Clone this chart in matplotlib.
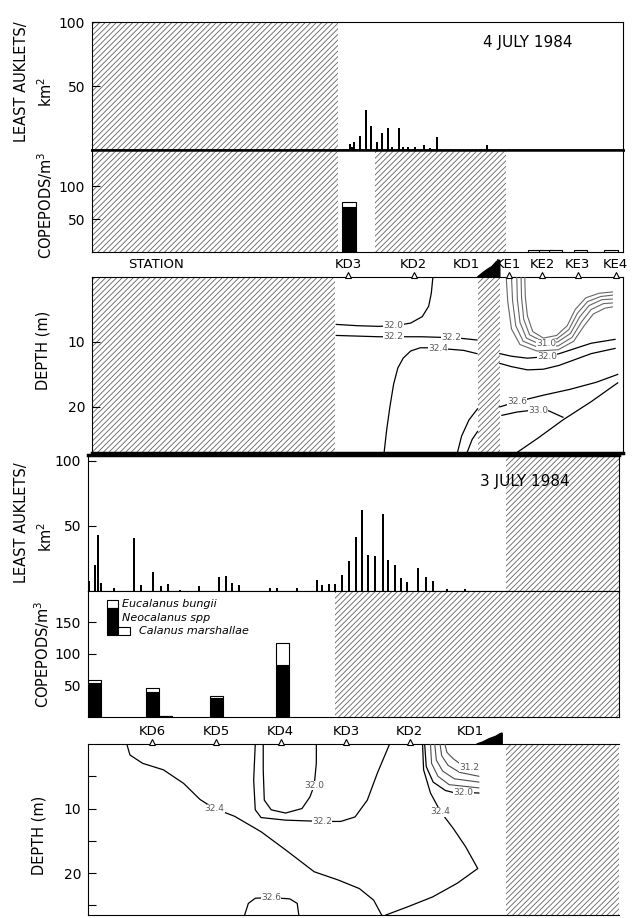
import matplotlib
matplotlib.use('Agg')
import matplotlib.pyplot as plt
from matplotlib.patches import Rectangle

plt.rcParams['font.family'] = ['DejaVu Sans']
plt.rcParams['hatch.linewidth'] = 0.6

W, H = 642, 918

# ---------------- data (along-track distance, 0-100 units) ----------------
stations_jul4 = ['KD3', 'KD2', 'KD1', 'KE1', 'KE2', 'KE3', 'KE4']
stations_jul4_x = [48.2, 60.6, 70.5, 78.5, 84.8, 91.5, 98.6]
stations_jul3 = ['KD6', 'KD5', 'KD4', 'KD3', 'KD2', 'KD1']
stations_jul3_x = [12.1, 24.1, 36.3, 48.6, 60.6, 72.0]

# least auklets / km2
auk_jul4_x = [48.6, 49.0, 49.3, 50.5, 51.6, 52.5, 53.7, 54.6, 55.7, 56.5, 57.8,
              58.6, 59.5, 60.8, 62.5, 63.7, 65.0, 74.4]
auk_jul4 = [4.7, 2.6, 6, 11, 31, 19, 6, 13, 17, 2.6, 17, 2, 2, 2, 4, 1.5, 10, 4]

auk_jul3_x = [0.2, 1.3, 1.9, 2.4, 4.9, 8.7, 10.0, 12.2, 13.7, 15.1, 17.3, 20.9,
              24.7, 26.0, 27.1, 28.4, 34.3, 35.6, 39.4, 43.1, 44.1, 45.4, 46.5,
              47.8, 49.2, 50.5, 51.6, 52.7, 54.0, 55.5, 56.5, 57.8, 58.9, 60.1,
              62.1, 63.6, 65.0, 67.6, 71.0]
auk_jul3 = [8, 20, 43, 6.4, 2.6, 41, 4.6, 14.6, 3.6, 5, 1, 3.8, 10.8, 11.5, 6,
            4.6, 2.6, 2, 2, 8.5, 4.6, 5, 5, 12, 23, 41.5, 62, 28, 26.7, 59, 24,
            20, 10, 7, 18, 10.8, 7.7, 1.8, 1.3]

# copepods / m3 (Neocalanus spp, Eucalanus bungii)
cope_jul4_x = [48.4, 83.5, 85.5, 87.3, 92.0, 97.8]
cope_jul4_neo = [69, 0, 0, 0, 0, 0]
cope_jul4_euc = [7, 3, 3, 3, 3, 3]

cope_jul3_x = [1.2, 12.1, 14.6, 24.2, 36.6]
cope_jul3_neo = [54, 40, 1, 30, 82]
cope_jul3_euc = [5, 6, 0, 3, 35]

# unsampled (hatched) stretches
hatch_auk_jul4 = [(0, 46.3)]
hatch_cope_jul4 = [(0, 46.3), (53.3, 78.0)]
hatch_sal_jul4 = [(0, 45.8), (72.7, 76.8)]
hatch_auk_jul3 = [(78.7, 100)]
hatch_cope_jul3 = [(46.5, 100)]
hatch_sal_jul3 = [(78.7, 100)]

# shoal (land) profile at KD1, height above surface in m
shoal_jul4_x = [72.6, 73.5, 74.5, 75.3, 76.2, 76.8, 76.8]
shoal_jul4_h = [0, 0.6, 1.2, 1.6, 2.4, 2.6, 0]
shoal_jul3_x = [73.2, 74.3, 75.5, 76.8, 77.6, 78.0, 78.0]
shoal_jul3_h = [0, 0.3, 0.8, 1.2, 1.6, 1.7, 0]

# isohalines 4 July (x, depth)
s4_320_x = [46.0, 50, 54, 57, 60, 62.2, 63.4, 63.9, 64.2]
s4_320_d = [7.3, 7.5, 7.6, 7.5, 7.1, 6.1, 4.5, 2.5, 0]
s4_322_x = [46.0, 50, 54, 58, 62, 66, 69, 72.5]
s4_322_d = [9.0, 9.1, 9.2, 9.2, 9.2, 9.3, 9.4, 9.7]
s4_324_x = [55.0, 55.5, 56.1, 56.8, 57.6, 58.6, 60.0, 61.8, 64, 67, 70, 72.5]
s4_324_d = [27.1, 23.5, 20.0, 16.5, 14.0, 12.5, 11.4, 10.9, 10.9, 11.1, 11.3, 11.8]
s4_326_x = [68.8, 69.6, 71.0, 72.6]
s4_326_d = [27.1, 24.5, 22.0, 20.3]
s4_328_x = [70.6, 71.6, 72.6]
s4_328_d = [27.1, 25.0, 23.8]
s4_u1_x = [81.5, 81.6, 82.0, 83.0, 85.0, 87.5, 89.5, 91.0, 93.0, 95.5, 98.0]
s4_u1_d = [0, 3, 6, 8.4, 9.4, 9.0, 7.5, 5.0, 3.2, 2.5, 2.3]
s4_u2_x = [80.8, 80.9, 81.3, 82.4, 84.8, 87.6, 89.8, 91.4, 93.3, 95.8, 98.0]
s4_u2_d = [0, 3.2, 6.5, 8.9, 9.9, 9.5, 8.1, 5.6, 3.8, 3.0, 2.8]
s4_u3_x = [80.0, 80.1, 80.6, 81.8, 84.5, 87.7, 90.1, 91.8, 93.6, 96.0, 98.0]
s4_u3_d = [0, 3.4, 7.0, 9.4, 10.4, 10.0, 8.7, 6.2, 4.4, 3.5, 3.4]
s4_u4_x = [79.0, 79.2, 79.8, 81.2, 84.2, 87.8, 90.4, 92.2, 94.0, 96.3, 98.0]
s4_u4_d = [0, 3.6, 7.5, 9.9, 10.9, 10.6, 9.3, 6.9, 5.0, 4.1, 4.0]
s4_u5_x = [78.0, 78.3, 79.0, 80.6, 83.8, 87.8, 90.7, 92.6, 94.4, 96.6, 98.0]
s4_u5_d = [0, 3.8, 8.0, 10.4, 11.4, 11.2, 9.9, 7.6, 5.7, 4.8, 4.6]
s4_r320_x = [76.8, 79, 82, 85, 88, 91, 94, 98.5]
s4_r320_d = [11.8, 12.2, 12.5, 12.3, 11.8, 11.0, 10.2, 9.6]
s4_r322_x = [76.8, 79, 82, 85, 88, 91, 94, 98.5]
s4_r322_d = [13.3, 13.8, 14.3, 14.2, 13.6, 12.7, 11.8, 11.0]
s4_r326_x = [76.8, 80, 85, 90, 95, 99]
s4_r326_d = [20.0, 19.2, 18.2, 17.3, 16.2, 15.0]
s4_r330_x = [77.2, 80, 83, 86, 88.7]
s4_r330_d = [21.3, 20.8, 20.5, 20.6, 21.6]
s4_rdg_x = [79.9, 84, 88.7, 94, 99]
s4_rdg_d = [27.1, 24.8, 22.0, 19.2, 16.3]

# isohalines 3 July (x, depth)
s3_324a_x = [7.3, 7.9, 10.3, 14.2, 18.0, 21.1, 23.8, 27.6, 32.6, 37.2, 42.6, 47.2, 51.1, 53.8, 55.3]
s3_324a_d = [0, 1.7, 3.0, 4.0, 6.1, 8.6, 10.0, 11.2, 13.6, 16.4, 19.8, 21.1, 22.4, 24.2, 26.5]
s3_324b_x = [56.1, 60.3, 64.9, 69.5, 73.4, 71.1, 68.8, 66.4, 64.5, 63.2, 63.0]
s3_324b_d = [26.5, 25.2, 23.7, 21.6, 19.3, 15.9, 13.1, 10.5, 7.6, 4.0, 0]
s3_320_x = [33.0, 33.0, 33.2, 34.5, 37.2, 40.3, 41.8, 42.6, 43.0, 43.0]
s3_320_d = [0, 4.0, 8.7, 10.2, 10.7, 10.0, 8.2, 6.4, 3.0, 0]
s3_322_x = [31.5, 31.2, 31.5, 32.6, 37.2, 44.1, 47.6, 50.3, 52.6, 54.5, 56.8]
s3_322_d = [0, 5.6, 10.2, 11.4, 11.8, 12.0, 12.0, 11.3, 8.7, 4.5, 0]
s3_326_x = [29.5, 30.2, 31.5, 34.5, 38.0, 39.4, 39.7]
s3_326_d = [26.5, 24.7, 23.9, 23.8, 24.0, 24.7, 26.5]
s3_f1_x = [67.2, 67.6, 68.8, 70.3, 72.0, 73.4]
s3_f1_d = [0, 1.3, 2.3, 3.2, 3.7, 4.0]
s3_f2_x = [66.3, 66.6, 67.8, 70.0, 73.6]
s3_f2_d = [0, 1.8, 3.3, 4.4, 5.0]
s3_f3_x = [65.3, 65.6, 66.8, 69.0, 73.6]
s3_f3_d = [0, 2.5, 4.2, 5.4, 5.9]
s3_f4_x = [64.5, 64.7, 65.9, 68.0, 73.6]
s3_f4_d = [0, 3.0, 5.0, 6.3, 6.8]
s3_f5_x = [63.4, 63.7, 65.0, 67.3, 69.2, 71.0, 73.6]
s3_f5_d = [0, 3.5, 5.9, 7.2, 7.6, 7.5, 7.6]

# ---------------- figure ----------------
fig = plt.figure(figsize=(W / 100, H / 100), dpi=100)


def add_ax(x0, y0, x1, y1):
    return fig.add_axes([x0 / W, 1 - y1 / H, (x1 - x0) / W, (y1 - y0) / H])


def style(ax, yticks, minor=None):
    ax.set_xlim(0, 100)
    ax.set_xticks([])
    ax.set_yticks(yticks)
    if minor is not None:
        ax.set_yticks(minor, minor=True)
    ax.tick_params(axis='y', which='both', direction='in', length=6, width=0.8,
                   labelsize=10, pad=5)
    for s in ax.spines.values():
        s.set_linewidth(0.8)


def hatch(ax, spans):
    for a, b in spans:
        ax.axvspan(a, b, facecolor='white', edgecolor='0.38', hatch='//////',
                   lw=0, zorder=0)


def line(ax, xs, ds, color='black', lw=0.9):
    ax.plot(xs, ds, color=color, lw=lw, zorder=3)


def lab(ax, x, y, s):
    ax.text(x, y, s, fontsize=6.5, color='0.35', ha='center', va='center',
            zorder=4, bbox=dict(fc='white', ec='none', pad=0.2))


# Panel 1 : auklets 4 July
ax1 = add_ax(92, 22, 623, 150)
style(ax1, [50, 100])
ax1.set_ylim(0, 100)
hatch(ax1, hatch_auk_jul4)
ax1.bar(auk_jul4_x, auk_jul4, width=0.4, color='black', zorder=2)
ax1.spines['bottom'].set_linewidth(1.8)
ax1.text(82, 84, '4 JULY 1984', fontsize=11, ha='center', va='center')

# Panel 2 : copepods 4 July
ax2 = add_ax(92, 150, 623, 252)
style(ax2, [50, 100])
ax2.set_ylim(0, 155)
hatch(ax2, hatch_cope_jul4)
ax2.bar(cope_jul4_x, cope_jul4_neo, width=2.6, color='black', edgecolor='black',
        lw=0.8, zorder=2)
ax2.bar(cope_jul4_x, cope_jul4_euc, bottom=cope_jul4_neo, width=2.6, color='white',
        edgecolor='black', lw=0.8, zorder=2)
ax2.spines['top'].set_linewidth(1.8)

# Panel 3 : salinity section 4 July
ax3 = add_ax(92, 277, 623, 453)
style(ax3, [10, 20])
ax3.set_ylim(27.1, 0)
hatch(ax3, hatch_sal_jul4)
ax3.spines['bottom'].set_linewidth(2.5)
for xs, ds in [(s4_320_x, s4_320_d), (s4_322_x, s4_322_d), (s4_324_x, s4_324_d),
               (s4_326_x, s4_326_d), (s4_328_x, s4_328_d), (s4_r320_x, s4_r320_d),
               (s4_r322_x, s4_r322_d), (s4_r326_x, s4_r326_d), (s4_r330_x, s4_r330_d),
               (s4_rdg_x, s4_rdg_d)]:
    line(ax3, xs, ds)
for xs, ds in [(s4_u1_x, s4_u1_d), (s4_u2_x, s4_u2_d), (s4_u3_x, s4_u3_d),
               (s4_u4_x, s4_u4_d), (s4_u5_x, s4_u5_d)]:
    line(ax3, xs, ds, color='0.4', lw=0.8)
lab(ax3, 56.8, 7.5, '32.0')
lab(ax3, 56.8, 9.2, '32.2')
lab(ax3, 67.6, 9.35, '32.2')
lab(ax3, 65.2, 11.0, '32.4')
lab(ax3, 85.5, 10.3, '31.0')
lab(ax3, 85.7, 12.3, '32.0')
lab(ax3, 80.0, 19.1, '32.6')
lab(ax3, 84.0, 20.5, '33.0')
ax3.fill(shoal_jul4_x, [-h for h in shoal_jul4_h], color='black',
         clip_on=False, zorder=5)
tri4 = [(x, s) for x, s in zip(stations_jul4_x, stations_jul4) if s != 'KD1']
ax3.plot([t[0] for t in tri4], [-0.3] * len(tri4), ls='none', marker='^', ms=5,
         mfc='white', mec='black', mew=0.8, clip_on=False, zorder=6)
for x, s in zip(stations_jul4_x, stations_jul4):
    ax3.text(x, -1.9, s, fontsize=9.5, ha='center', va='center', clip_on=False)
ax3.text(12, -1.9, 'STATION', fontsize=9.5, ha='center', va='center', clip_on=False)

# Panel 4 : auklets 3 July
ax4 = add_ax(88, 455, 619, 591)
style(ax4, [50, 100])
ax4.set_ylim(0, 104.6)
hatch(ax4, hatch_auk_jul3)
ax4.bar(auk_jul3_x, auk_jul3, width=0.4, color='black', zorder=2)
ax4.spines['top'].set_linewidth(2.5)
ax4.text(82.3, 84.6, '3 JULY 1984', fontsize=11, ha='center', va='center', zorder=5)

# Panel 5 : copepods 3 July
ax5 = add_ax(88, 591, 619, 717)
style(ax5, [50, 100, 150])
ax5.set_ylim(0, 199)
hatch(ax5, hatch_cope_jul3)
ax5.bar(cope_jul3_x, cope_jul3_neo, width=2.4, color='black', edgecolor='black',
        lw=0.8, zorder=2)
ax5.bar(cope_jul3_x, cope_jul3_euc, bottom=cope_jul3_neo, width=2.4, color='white',
        edgecolor='black', lw=0.8, zorder=2)
# legend glyph
ax5.add_patch(Rectangle((0.036, 0.865), 0.021, 0.064, transform=ax5.transAxes,
                        fc='white', ec='black', lw=0.8))
ax5.add_patch(Rectangle((0.036, 0.651), 0.021, 0.214, transform=ax5.transAxes,
                        fc='black', ec='black', lw=0.8))
ax5.add_patch(Rectangle((0.057, 0.651), 0.022, 0.063, transform=ax5.transAxes,
                        fc='white', ec='black', lw=0.8))
ax5.text(0.064, 0.897, 'Eucalanus bungii', transform=ax5.transAxes, fontsize=8,
         style='italic', va='center')
ax5.text(0.064, 0.786, 'Neocalanus spp', transform=ax5.transAxes, fontsize=8,
         style='italic', va='center')
ax5.text(0.096, 0.683, 'Calanus marshallae', transform=ax5.transAxes, fontsize=8,
         style='italic', va='center')

# Panel 6 : salinity section 3 July
ax6 = add_ax(88, 744, 619, 915)
style(ax6, [10, 20], minor=[5, 15, 25])
ax6.set_ylim(26.5, 0)
hatch(ax6, hatch_sal_jul3)
ax6.spines['right'].set_visible(False)
for xs, ds in [(s3_324a_x, s3_324a_d), (s3_324b_x, s3_324b_d), (s3_320_x, s3_320_d),
               (s3_322_x, s3_322_d), (s3_326_x, s3_326_d), (s3_f5_x, s3_f5_d)]:
    line(ax6, xs, ds)
for xs, ds in [(s3_f1_x, s3_f1_d), (s3_f2_x, s3_f2_d), (s3_f3_x, s3_f3_d),
               (s3_f4_x, s3_f4_d)]:
    line(ax6, xs, ds, color='0.3', lw=0.8)
lab(ax6, 23.8, 10.0, '32.4')
lab(ax6, 66.4, 10.5, '32.4')
lab(ax6, 42.6, 6.4, '32.0')
lab(ax6, 44.1, 12.0, '32.2')
lab(ax6, 34.5, 23.8, '32.6')
lab(ax6, 71.8, 3.6, '31.2')
lab(ax6, 70.7, 7.5, '32.0')
ax6.fill(shoal_jul3_x, [-h for h in shoal_jul3_h], color='black', clip_on=False,
         zorder=5)
tri3 = [(x, s) for x, s in zip(stations_jul3_x, stations_jul3) if s != 'KD1']
ax6.plot([t[0] for t in tri3], [-0.3] * len(tri3), ls='none', marker='^', ms=5,
         mfc='white', mec='black', mew=0.8, clip_on=False, zorder=6)
for x, s in zip(stations_jul3_x, stations_jul3):
    ax6.text(x, -1.9, s, fontsize=9.5, ha='center', va='center', clip_on=False)


# axis titles
def ylab(x, y, s, size=10.5):
    fig.text(x / W, 1 - y / H, s, rotation=90, ha='center', va='center', fontsize=size)


ylab(22, 82, 'LEAST AUKLETS/')
ylab(46, 92, 'km$^2$')
ylab(45, 205, 'COPEPODS/m$^3$')
ylab(43, 350, 'DEPTH (m)')
ylab(22, 523, 'LEAST AUKLETS/')
ylab(46, 537, 'km$^2$')
ylab(42, 654, 'COPEPODS/m$^3$')
ylab(39, 835, 'DEPTH (m)')

fig.savefig('out.png', dpi=100)
